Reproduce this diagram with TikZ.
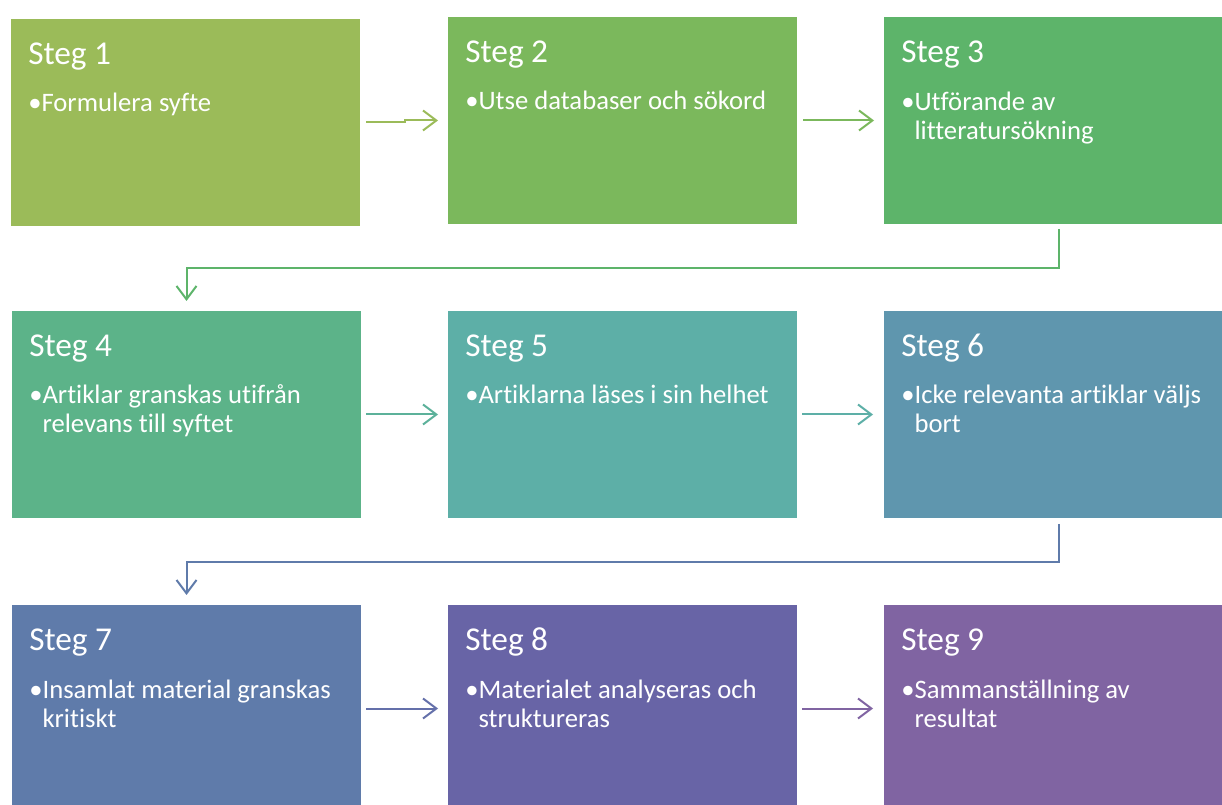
\documentclass[tikz,border=0pt]{standalone}
\usepackage{fontspec}
\setmainfont[Ligatures=NoCommon]{Carlito}
\usetikzlibrary{arrows.meta,calc}
\definecolor{c1}{HTML}{9BBB59}
\definecolor{c2}{HTML}{7BB85C}
\definecolor{c3}{HTML}{5DB46A}
\definecolor{c4}{HTML}{5CB389}
\definecolor{c5}{HTML}{5DAFA7}
\definecolor{c6}{HTML}{5F96AE}
\definecolor{c7}{HTML}{5F7BAA}
\definecolor{c8}{HTML}{6864A6}
\definecolor{c9}{HTML}{8064A2}
\definecolor{a45}{HTML}{5CB19A}
\definecolor{a78}{HTML}{6470AA}
\begin{document}
\begin{tikzpicture}[x=0.75pt,y=-0.75pt,
  box/.style={rectangle,inner sep=0pt,outer sep=0pt,minimum width=261.75pt,minimum height=155.25pt,anchor=north west,draw=none},
  ttl/.style={anchor=base west,inner sep=0pt,text=white,font=\fontsize{25}{30}\selectfont},
  bul/.style={anchor=base west,inner sep=0pt,text=white,font=\fontsize{20}{24}\selectfont},
  arr/.style={line width=1.5pt,line join=miter,-{Straight Barb[length=10pt,width=15pt,line width=1.5pt]}}]
\useasboundingbox (0,0) rectangle (1222,805);
\clip (0,0) rectangle (1222,805);
% boxes
\node[box,fill=c1] (b1) at (11,19) {};
\node[box,fill=c2] (b2) at (448,17) {};
\node[box,fill=c3] (b3) at (884,17) {};
\node[box,fill=c4] (b4) at (12,311) {};
\node[box,fill=c5] (b5) at (448,311) {};
\node[box,fill=c6] (b6) at (884,311) {};
\node[box,fill=c7] (b7) at (12,605) {};
\node[box,fill=c8] (b8) at (448,605) {};
\node[box,fill=c9] (b9) at (884,605) {};
% titles and texts
\foreach \i in {1,...,9}{
  \node[ttl] (t\i) at ($(b\i.north west)+(17,46)$) {Steg \i};
}
\node[bul] (s1) at ($(b1.north west)+(17,93)$) {•Formulera syfte};
\node[bul] (s2) at ($(b2.north west)+(17,93)$) {•Utse databaser och sökord};
\node[bul] (s3) at ($(b3.north west)+(17,94)$) {•Utförande av};
\node[bul] (s3b) at ($(s3.base west)+(0,29)$) {\phantom{•}litteratursökning};
\node[bul] (s4) at ($(b4.north west)+(17,93)$) {•Artiklar granskas utifrån};
\node[bul] (s4b) at ($(s4.base west)+(0,29)$) {\phantom{•}relevans till syftet};
\node[bul] (s5) at ($(b5.north west)+(17,93)$) {•Artiklarna läses i sin helhet};
\node[bul] (s6) at ($(b6.north west)+(17,93)$) {•Icke relevanta artiklar väljs};
\node[bul] (s6b) at ($(s6.base west)+(0,29)$) {\phantom{•}bort};
\node[bul] (s7) at ($(b7.north west)+(17,93)$) {•Insamlat material granskas};
\node[bul] (s7b) at ($(s7.base west)+(0,29)$) {\phantom{•}kritiskt};
\node[bul] (s8) at ($(b8.north west)+(17,93)$) {•Materialet analyseras och};
\node[bul] (s8b) at ($(s8.base west)+(0,29)$) {\phantom{•}struktureras};
\node[bul] (s9) at ($(b9.north west)+(17,93)$) {•Sammanställning av};
\node[bul] (s9b) at ($(s9.base west)+(0,29)$) {\phantom{•}resultat};
% connectors
\draw[arr,c1] ($(b1.east)+(6,0)$) -- ++(39,0) |- ($(b2.west)+(-10,0)$);
\draw[arr,c2] ($(b2.east)+(6,0)$) -- ($(b3.west)+(-10,0)$);
\draw[arr,a45] ($(b4.east)+(5,0)$) -- ($(b5.west)+(-10,0)$);
\draw[arr,c5] ($(b5.east)+(5,0)$) -- ($(b6.west)+(-11,0)$);
\draw[arr,a78] ($(b7.east)+(5,0)$) -- ($(b8.west)+(-10,0)$);
\draw[arr,c9] ($(b8.east)+(5,0)$) -- ($(b9.west)+(-11,0)$);
\draw[arr,c3] ($(b3.south)+(0,5)$) -- ++(0,39) -| ($(b4.north)+(0,-10)$);
\draw[arr,c7] ($(b6.south)+(0,6)$) -- ++(0,38) -| ($(b7.north)+(0,-10)$);
\end{tikzpicture}
\end{document}
